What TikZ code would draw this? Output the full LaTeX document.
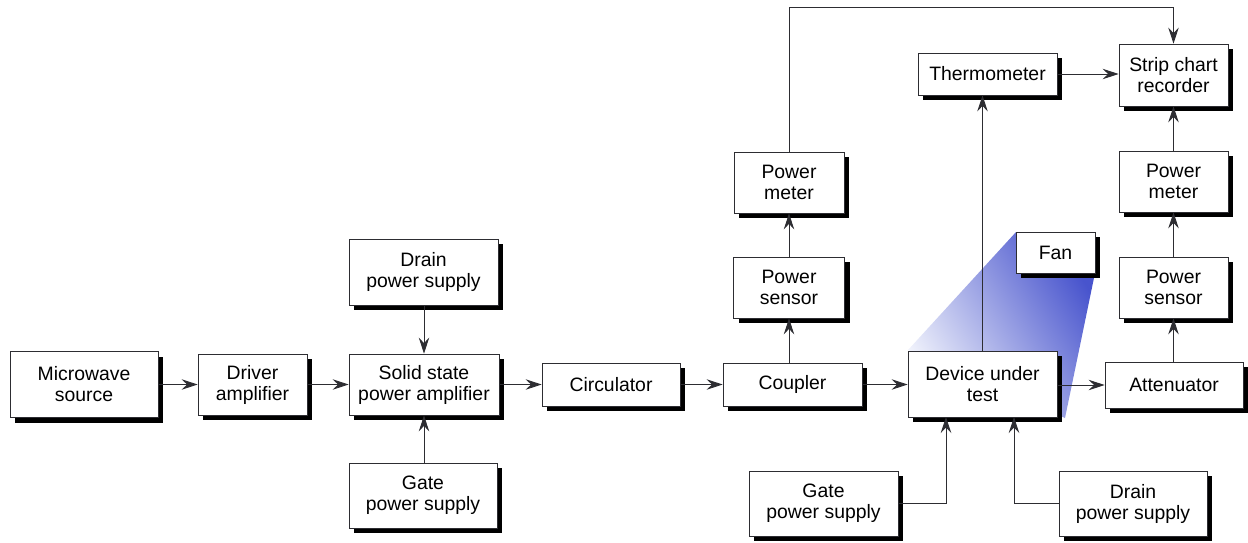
\documentclass[tikz,border=0pt]{standalone}
\usepackage{fontspec}
\setmainfont{Liberation Sans}
\usetikzlibrary{arrows.meta,shadows}
\definecolor{fanblue}{RGB}{72,84,205}
\definecolor{fanlight}{RGB}{242,244,252}
\definecolor{linecol}{RGB}{45,45,50}
\begin{document}
\begin{tikzpicture}[x=1pt,y=-1pt,
  box/.style={draw=linecol, line width=0.8pt, fill=white, align=center, inner sep=0pt,
    font=\fontsize{19.4}{21}\selectfont,
    drop shadow={shadow xshift=5pt, shadow yshift=-5pt, opacity=1, fill=black}},
  conn/.style={draw=linecol, line width=0.9pt, -{Stealth[length=16pt,width=10.5pt,inset=5.5pt]}}]
\useasboundingbox (0,0) rectangle (1248,542);

% fan air flow
\shade[top color=fanblue, bottom color=fanlight, shading angle=-58]
  (1016,232) -- (1095,232) -- (1095,273) -- (1065,418) -- (908,350) -- cycle;

% boxes
\node[box, minimum width=148pt, minimum height=66pt] (ms) at (84,384.5) {Microwave\\source};
\node[box, minimum width=109pt, minimum height=61pt] (drv) at (252.5,384.5) {Driver\\amplifier};
\node[box, minimum width=149pt, minimum height=66pt] (dr1) at (423.5,272) {Drain\\power supply};
\node[box, minimum width=150pt, minimum height=61pt] (sspa) at (424,384.5) {Solid state\\power amplifier};
\node[box, minimum width=148pt, minimum height=65pt] (gt1) at (423,495.5) {Gate\\power supply};
\node[box, minimum width=138pt, minimum height=43pt] (circ) at (611,384.5) {Circulator};
\node[box, minimum width=139pt, minimum height=43pt] (coup) at (792.5,384.5) {Coupler};
\node[box, minimum width=111pt, minimum height=61pt] (ps1) at (789,287.5) {Power\\sensor};
\node[box, minimum width=110pt, minimum height=61pt] (pm1) at (789,182.5) {Power\\meter};
\node[box, minimum width=149pt, minimum height=66pt] (dut) at (982.5,384) {Device under\\test};
\node[box, minimum width=79pt, minimum height=41pt] (fan) at (1055.5,252.5) {Fan};
\node[box, minimum width=139pt, minimum height=42pt] (therm) at (987.5,74) {Thermometer};
\node[box, minimum width=109pt, minimum height=62pt] (scr) at (1173.5,75) {Strip chart\\recorder};
\node[box, minimum width=109pt, minimum height=61pt] (pm2) at (1173.5,181.5) {Power\\meter};
\node[box, minimum width=109pt, minimum height=61pt] (ps2) at (1173.5,287.5) {Power\\sensor};
\node[box, minimum width=138pt, minimum height=46pt] (att) at (1174,385) {Attenuator};
\node[box, minimum width=149pt, minimum height=65pt] (gt2) at (823.5,503.5) {Gate\\power supply};
\node[box, minimum width=148pt, minimum height=65pt] (dr2) at (1133,503.5) {Drain\\power supply};

% helper coordinates
\coordinate (gin) at (946,417);
\coordinate (din) at (1014,417);
\coordinate (topl) at (789,7);

% connectors
\draw[conn] (ms.east) -- (ms.east -| drv.west);
\draw[conn] (drv.east) -- (drv.east -| sspa.west);
\draw[conn] (sspa.north |- dr1.south) -- (sspa.north);
\draw[conn] (sspa.south |- gt1.north) -- (sspa.south);
\draw[conn] (sspa.east) -- (sspa.east -| circ.west);
\draw[conn] (circ.east) -- (circ.east -| coup.west);
\draw[conn] (coup.east) -- (coup.east -| dut.west);
\draw[conn] (dut.east |- att.west) -- (att.west);
\draw[conn] (ps1.south |- coup.north) -- (ps1.south);
\draw[conn] (ps1.north) -- (pm1.south);
\draw[conn] (pm1.north) -- (topl) -| (scr.north);
\draw[conn] (dut.north) -- (dut.north |- therm.south);
\draw[conn] (therm.east) -- (therm.east -| scr.west);
\draw[conn] (att.north -| ps2.south) -- (ps2.south);
\draw[conn] (ps2.north) -- (pm2.south);
\draw[conn] (pm2.north) -- (scr.south);
\draw[conn] (gt2.east) -| (gin);
\draw[conn] (dr2.west) -| (din);
\end{tikzpicture}
\end{document}
